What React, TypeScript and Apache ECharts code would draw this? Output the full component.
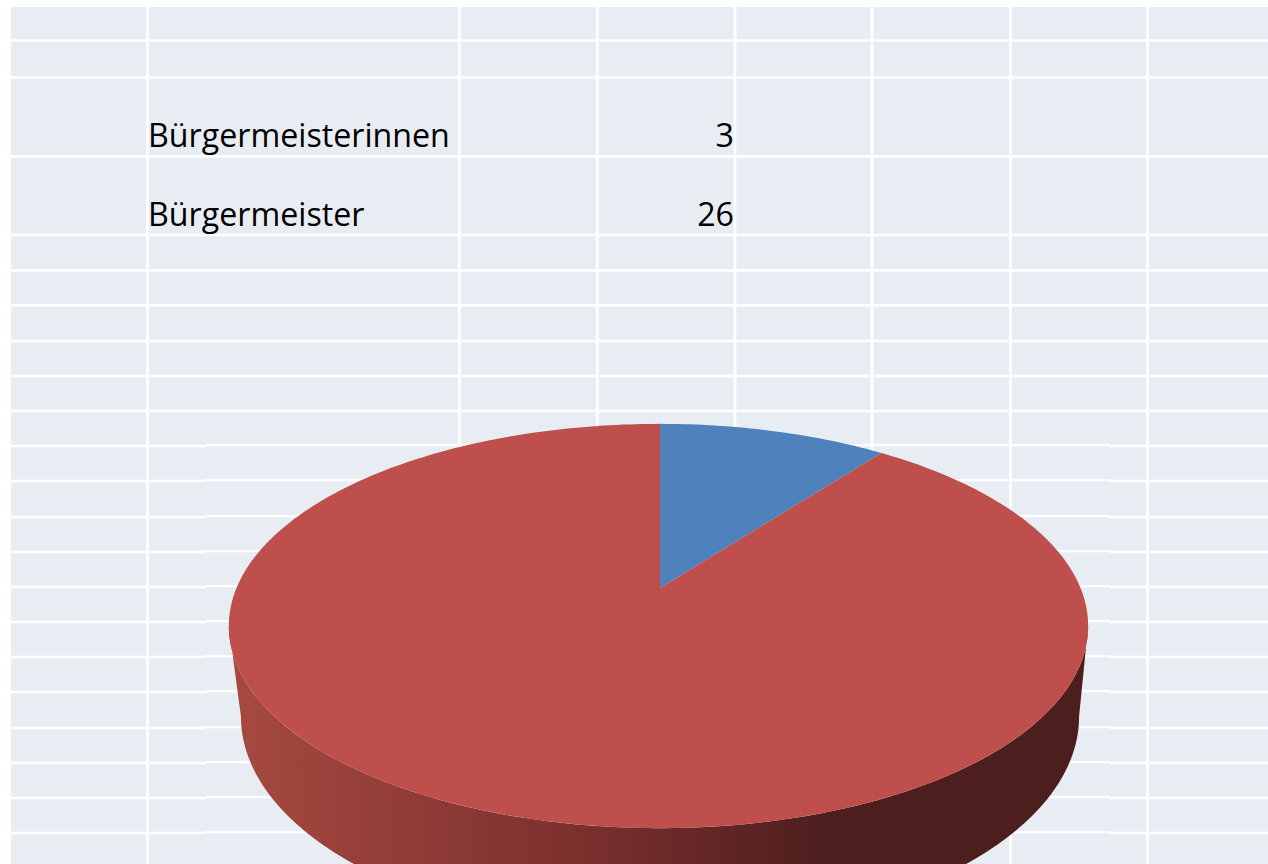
import React, { useEffect, useRef } from "react";
import * as echarts from "echarts";

const categories = ["Bürgermeisterinnen", "Bürgermeister"];
const values = [3, 26];
const sliceColors = ["#4F81BD", "#BE4F4C"];

const rowLines = [40.5, 77.5, 156.3, 235, 270.3, 305.4, 341, 376, 411, 446, 481, 517, 552, 587, 622, 657, 692, 728, 763, 798, 833];
const columnLines = [147.5, 459.3, 597.3, 735, 872, 1010.5, 1147.6];

type Ring = { cx: number; cy: number; rxL: number; rxR: number; ry: number; k: number };
const TOP: Ring = { cx: 660, cy: 588, rxL: 423.5, rxR: 420.5, ry: 195, k: 0.188 };
const BOTTOM: Ring = { cx: 660, cy: 676, rxL: 411.6, rxR: 411.6, ry: 208.2, k: 0.188 };
const WALL_START = 100.8;
const WALL_END = 259.2;

function project(deg: number, r: Ring): number[] {
  const a = (deg * Math.PI) / 180;
  const u = Math.sin(a);
  const v = Math.cos(a);
  const d = 1 + r.k * v;
  return [r.cx + ((u < 0 ? r.rxL : r.rxR) * u) / d, r.cy - (r.ry * v) / d];
}

function arc(a0: number, a1: number, r: Ring): number[][] {
  const pts: number[][] = [];
  const n = Math.max(2, Math.ceil(Math.abs(a1 - a0)));
  for (let i = 0; i <= n; i++) pts.push(project(a0 + ((a1 - a0) * i) / n, r));
  return pts;
}

const total = values.reduce((s, v) => s + v, 0);

function renderSlice(params: any, api: any) {
  const idx = params.dataIndex;
  let before = 0;
  for (let i = 0; i < idx; i++) before += values[i];
  const a0 = (before / total) * 360;
  const a1 = a0 + (api.value(0) / total) * 360;
  const children: any[] = [];
  const ws = Math.max(a0, WALL_START);
  const we = Math.min(a1, WALL_END);
  if (we > ws) {
    children.push({
      type: "polygon",
      shape: { points: [...arc(ws, we, TOP), ...arc(we, ws, BOTTOM)] },
      style: {
        fill: new echarts.graphic.LinearGradient(
          243, 0, 1077, 0,
          [
            { offset: 0, color: "#A54840" },
            { offset: 0.4, color: "#7C302E" },
            { offset: 0.7, color: "#4D1E1E" },
            { offset: 1, color: "#4D1E1E" },
          ],
          true
        ),
      },
    });
  }
  children.push({
    type: "polygon",
    shape: { points: [[TOP.cx, TOP.cy], ...arc(a0, a1, TOP)] },
    style: { fill: sliceColors[idx] },
  });
  return { type: "group", children };
}

export default function App() {
  const ref = useRef<HTMLDivElement>(null);
  useEffect(() => {
    const chart = echarts.init(ref.current!, undefined, { renderer: "svg" });
    const line = "#FFFFFF";
    const graphics: any[] = [
      { type: "rect", z: -10, shape: { x: 11, y: 7, width: 1257, height: 857 }, style: { fill: "#E8EDF4" } },
    ];
    rowLines.forEach((y) => {
      if (y < 440) {
        graphics.push({ type: "line", z: -9, shape: { x1: 11, y1: y, x2: 1268, y2: y }, style: { stroke: line, lineWidth: 2.7 } });
      } else {
        graphics.push({ type: "line", z: -9, shape: { x1: 11, y1: y, x2: 206, y2: y }, style: { stroke: line, lineWidth: 2.7 } });
        graphics.push({ type: "line", z: -9, shape: { x1: 206, y1: y - 0.8, x2: 1110, y2: y - 0.8 }, style: { stroke: line, lineWidth: 2.2 } });
        graphics.push({ type: "line", z: -9, shape: { x1: 1110, y1: y, x2: 1268, y2: y }, style: { stroke: line, lineWidth: 2.7 } });
      }
    });
    columnLines.forEach((x) => {
      graphics.push({ type: "line", z: -9, shape: { x1: x, y1: 7, x2: x, y2: 864 }, style: { stroke: line, lineWidth: 2.8 } });
    });
    categories.forEach((c, i) => {
      const y = [134.5, 213][i];
      const font = "32.2px 'Open Sans', sans-serif";
      graphics.push({ type: "text", z: -5, style: { text: c, x: 148, y, font, fill: "#000000", textAlign: "left", textVerticalAlign: "middle" } });
      graphics.push({ type: "text", z: -5, style: { text: String(values[i]), x: 734, y, font, fill: "#000000", textAlign: "right", textVerticalAlign: "middle" } });
    });
    chart.setOption({
      animation: false,
      backgroundColor: "#FFFFFF",
      graphic: { elements: graphics },
      series: [
        {
          type: "custom",
          coordinateSystem: "none",
          name: "Bürgermeister",
          z: 5,
          clip: false,
          silent: true,
          renderItem: renderSlice,
          data: categories.map((name, i) => ({ name, value: [values[i]] })),
        },
      ],
    });
    return () => chart.dispose();
  }, []);
  return <div ref={ref} style={{ position: "absolute", left: 0, top: 0, width: 1268, height: 864, overflow: "hidden" }} />;
}
